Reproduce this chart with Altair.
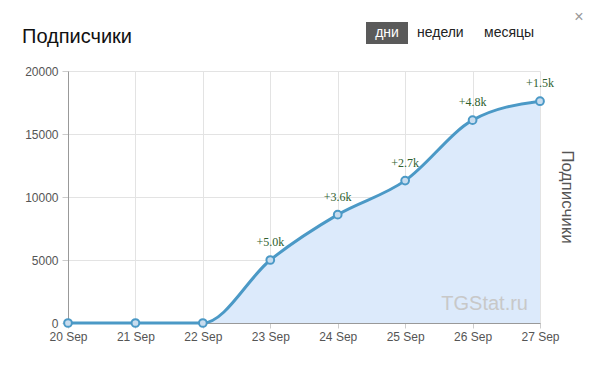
import altair as alt
import pandas as pd

days = ["20 Sep", "21 Sep", "22 Sep", "23 Sep", "24 Sep", "25 Sep", "26 Sep", "27 Sep"]
subscribers = [0, 0, 0, 5000, 8600, 11300, 16100, 17600]
deltas = ["", "", "", "+5.0k", "+3.6k", "+2.7k", "+4.8k", "+1.5k"]

df = pd.DataFrame({"day": days, "subs": subscribers, "delta": deltas})

FONT = "Liberation Sans"
BLUE = "#4b99c6"

x = alt.X("day:O", sort=days, scale=alt.Scale(type="point", padding=0),
          axis=alt.Axis(title=None, labelAngle=0, labelFontSize=12, labelColor="#555",
                        labelFont=FONT, domainColor="#999", tickColor="#ccc", tickSize=5,
                        gridColor="#e3e3e3", grid=True, labelPadding=3))
y = alt.Y("subs:Q", scale=alt.Scale(domain=[0, 20000]),
          axis=alt.Axis(title=None, values=[0, 5000, 10000, 15000, 20000], format="d",
                        labelFontSize=12, labelColor="#555", labelFont=FONT, domainColor="#999",
                        tickColor="#ccc", tickSize=6, gridColor="#e3e3e3", labelPadding=4))

base = alt.Chart(df)
area = base.mark_area(interpolate="monotone", color="#dceafb", opacity=1).encode(x=x, y=y)
line = base.mark_line(interpolate="monotone", color=BLUE, strokeWidth=3).encode(x=x, y=y)
pts = base.mark_point(filled=False, fill="#c8dcee", fillOpacity=1, stroke=BLUE, strokeWidth=2,
                      size=60, opacity=1).encode(x=x, y=y)
labels = base.mark_text(font="Liberation Serif", fontSize=12, color="#2f5f2f", dy=-14,
                        baseline="alphabetic").encode(x=x, y=y, text="delta:N")

def txt(s, xv, yv, **kw):
    d = pd.DataFrame({"t": [s]})
    return alt.Chart(d).mark_text(font=FONT, **kw).encode(
        x=alt.value(xv), y=alt.value(yv), text="t:N")

title = txt("Подписчики", -46, -28, fontSize=20, color="#111", align="left", baseline="alphabetic")
btn = alt.Chart(pd.DataFrame({"t": ["дни"]})).mark_rect(color="#5a5a5a").encode(
    x=alt.value(298), x2=alt.value(340), y=alt.value(-49), y2=alt.value(-27))
b1 = txt("дни", 319, -38, fontSize=14, color="white", align="center", baseline="middle")
b2 = txt("недели", 349, -38, fontSize=14, color="#222", align="left", baseline="middle")
b3 = txt("месяцы", 416, -38, fontSize=14, color="#222", align="left", baseline="middle")
close = txt("×", 511, -54, fontSize=16, color="#999", align="center", baseline="middle")
rtitle = txt("Подписчики", 499, 126, fontSize=17, color="#555", align="center",
             baseline="middle", angle=90)
wm = txt("TGStat.ru", 460, 239, fontSize=20, color="#c8c8c8", align="right", baseline="alphabetic")

chart = alt.layer(area, line, pts, labels, title, btn, b1, b2, b3, close, rtitle, wm).properties(
    width=472, height=252,
    autosize=alt.AutoSizeParams(type="none"),
    padding={"left": 60, "top": 63, "right": 46, "bottom": 39},
).configure_view(stroke=None)

chart.save("out.html", embed_options={"renderer": "svg", "actions": False})
